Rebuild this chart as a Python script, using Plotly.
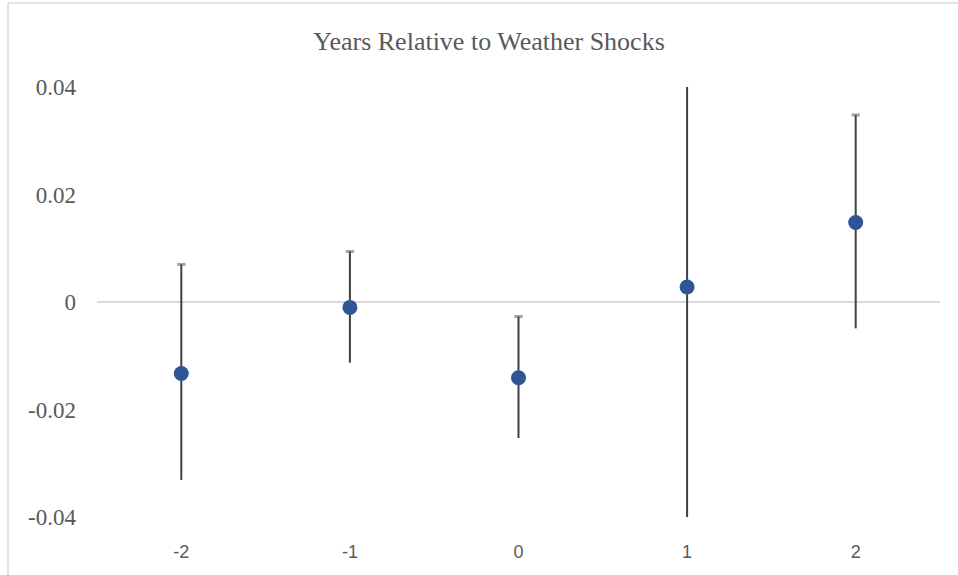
import plotly.graph_objects as go

years = ["-2", "-1", "0", "1", "2"]
estimate = [-0.0133, -0.0010, -0.0141, 0.0028, 0.0148]
upper = [0.0070, 0.0094, -0.0027, 0.0480, 0.0348]
lower = [-0.0331, -0.0113, -0.0253, -0.0420, -0.0049]
y_ticks = [-0.04, -0.02, 0, 0.02, 0.04]
y_tick_text = ["-0.04", "-0.02", "0", "0.02", "0.04"]

err_plus = [u - e for u, e in zip(upper, estimate)]
err_minus = [e - l for e, l in zip(estimate, lower)]

W, H = 958, 575
L, R, T, B = 97, 18, 87, 58
pw, ph = W - L - R, H - T - B

def px_x(p):
    return (p - L) / pw

def px_y(p):
    return (H - B - p) / ph

fig = go.Figure()
# small gray caps at the top of each interval
fig.add_trace(go.Scatter(
    x=years, y=upper, mode="markers",
    marker=dict(symbol="line-ew", size=6, line=dict(width=3, color="#A6A6A6")),
    hoverinfo="skip", showlegend=False,
))
fig.add_trace(go.Scatter(
    x=years, y=estimate, mode="markers",
    marker=dict(size=15, color="#2F5597"),
    error_y=dict(type="data", symmetric=False, array=err_plus, arrayminus=err_minus,
                 color="#404040", thickness=2, width=0),
    showlegend=False,
))

fig.update_layout(
    width=W, height=H,
    margin=dict(l=L, r=R, t=T, b=B),
    paper_bgcolor="white", plot_bgcolor="white",
    title=dict(text="Years Relative to Weather Shocks", x=489 / W, xref="container",
               xanchor="center", y=1 - 41 / H, yref="container", yanchor="middle",
               font=dict(family="Liberation Serif, Times New Roman, serif", size=26, color="#595959")),
    xaxis=dict(type="category", range=[-0.5, 4.5], showgrid=False, zeroline=False, showline=False,
               ticks="", ticklabelstandoff=22,
               tickfont=dict(family="Liberation Sans, Arial, sans-serif", size=18, color="#595959")),
    yaxis=dict(range=[-0.04, 0.04], tickvals=y_ticks, ticktext=y_tick_text,
               showgrid=False, zeroline=True, zerolinecolor="#D9D9D9", zerolinewidth=1.5,
               showline=False, ticks="", ticklabelstandoff=20,
               tickfont=dict(family="Liberation Serif, Times New Roman, serif", size=23, color="#595959")),
    shapes=[
        dict(type="line", xref="paper", yref="paper",
             x0=px_x(8), x1=px_x(8), y0=px_y(3), y1=px_y(600),
             line=dict(color="#D9D9D9", width=1.5)),
        dict(type="line", xref="paper", yref="paper",
             x0=px_x(8), x1=px_x(1000), y0=px_y(3), y1=px_y(3),
             line=dict(color="#D9D9D9", width=1.5)),
    ],
)

fig.write_html("out.html", config={"displayModeBar": False},
               post_script="document.body.style.margin='0';")
